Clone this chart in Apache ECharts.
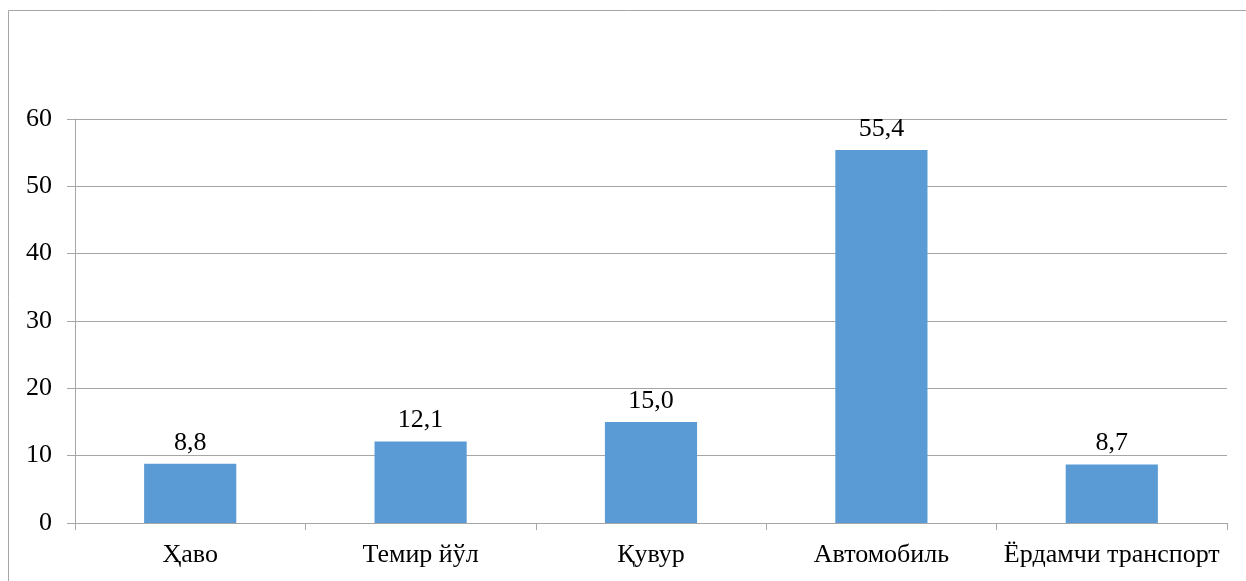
<!DOCTYPE html>
<html>
<head>
<meta charset="utf-8">
<script src="https://cdn.jsdelivr.net/npm/echarts@6/dist/echarts.min.js"></script>
<style>
html,body{margin:0;padding:0;background:#fff;overflow:hidden;}
#chart{width:1246px;height:581px;}
</style>
</head>
<body>
<div id="chart"></div>
<script>
const categories = ['Ҳаво', 'Темир йўл', 'Қувур', 'Автомобиль', 'Ёрдамчи транспорт'];
const values = [8.8, 12.1, 15.0, 55.4, 8.7];
const yTicks = [0, 10, 20, 30, 40, 50, 60];

const chart = echarts.init(document.getElementById('chart'), null, {renderer: 'canvas'});
const font = 'Liberation Serif';
const gray = '#a6a6a6';
chart.setOption({
  animation: false,
  backgroundColor: '#fff',
  graphic: [{
    type: 'rect',
    shape: {x: 8.5, y: 10.5, width: 1300, height: 700},
    style: {fill: 'none', stroke: gray, lineWidth: 1},
    silent: true
  }],
  grid: {left: 75, right: 19, top: 119, bottom: 58, containLabel: false},
  xAxis: {
    type: 'category',
    data: categories,
    axisLine: {lineStyle: {color: gray, width: 1}},
    axisTick: {show: true, alignWithLabel: false, length: 7, lineStyle: {color: gray}},
    axisLabel: {color: '#000', fontFamily: font, fontSize: 26, margin: 19, interval: 0}
  },
  yAxis: {
    type: 'value',
    min: yTicks[0],
    max: yTicks[yTicks.length - 1],
    interval: 10,
    axisLine: {show: true, lineStyle: {color: gray, width: 1}},
    axisTick: {show: true, inside: false, length: 8, lineStyle: {color: gray}},
    splitLine: {show: true, lineStyle: {color: gray, width: 1}},
    axisLabel: {color: '#000', fontFamily: font, fontSize: 26, margin: 23}
  },
  series: [{
    type: 'bar',
    data: values,
    barWidth: '40%',
    itemStyle: {color: '#5B9BD5'},
    label: {
      show: true,
      position: 'top',
      distance: 8,
      color: '#000',
      fontFamily: font,
      fontSize: 26,
      formatter: p => p.value.toFixed(1).replace('.', ',')
    }
  }]
});
</script>
</body>
</html>
